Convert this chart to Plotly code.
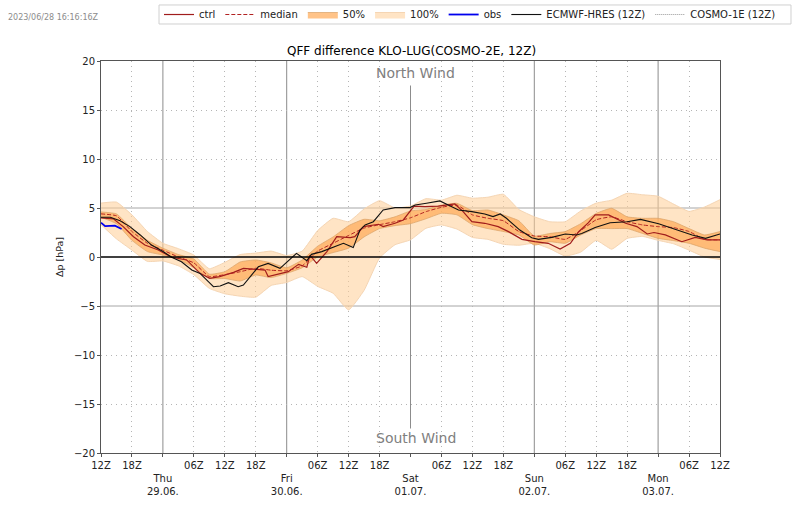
import plotly.graph_objects as go

# hours since 28.06. 12Z
hours = list(range(0, 121, 3))

upper_100 = [5.5, 5.6, 4.3, 2.6, 1.4, 0.85, 0.2, -1.2, -0.55, 0.25, 0.4, 0.6, 0.15, 0.6,
             2.7, 3.95, 3.6, 4.9, 5.75, 5.0, 5.2, 5.95, 5.8, 6.3, 6.0, 6.1, 6.4,
             4.85, 4.1, 3.6, 3.6, 4.7, 5.5, 5.8, 6.5, 6.35, 6.2, 5.4, 4.65, 5.1, 5.85]
lower_100 = [3.3, 1.85, 0.7, -0.45, -0.4, -0.9, -1.8, -3.2, -3.75, -4.0, -4.1, -2.9, -2.6, -2.0,
             -3.0, -3.7, -5.4, -3.4, -0.1, 1.25, 1.75, 2.93, 3.27, 2.85, 2.0, 1.8, 1.3,
             1.2, 1.4, 0.85, 0.1, 0.5, 1.7, 0.8, 1.9, 2.1, 1.7, 1.35, 0.7, 0.0, -0.25]
upper_50 = [4.6, 4.4, 2.9, 1.7, 0.9, 0.25, -0.2, -1.75, -1.5, -0.5, -0.3, -0.6, -1.1, -0.3,
            1.1, 2.05, 3.2, 3.85, 3.7, 4.1, 4.7, 4.85, 5.3, 5.48, 4.73, 4.8, 4.3,
            3.7, 2.14, 2.4, 2.6, 3.4, 4.45, 4.97, 4.1, 3.95, 3.95, 3.6, 2.9, 2.25, 2.6]
lower_50 = [4.05, 3.4, 1.7, 0.55, 0.2, -0.25, -1.1, -2.2, -2.2, -2.45, -1.84, -2.1, -1.67, -1.1,
            0.0, 0.45, 0.9, 2.05, 2.9, 3.2, 3.4, 3.9, 4.46, 4.3, 3.3, 2.9, 2.6,
            2.25, 1.22, 1.56, 1.4, 2.25, 2.9, 2.9, 2.9, 2.4, 1.9, 1.67, 1.4, 0.9, 0.55]
median = [4.4, 4.2, 2.6, 1.4, 0.7, 0.0, -0.6, -2.0, -1.8, -1.5, -1.15, -1.35, -1.4, -0.9,
          0.6, 1.4, 2.2, 2.95, 3.3, 3.6, 4.0, 4.63, 5.07, 5.3, 4.3, 3.95, 3.7,
          2.6, 2.14, 2.07, 1.8, 2.7, 3.8, 4.1, 3.6, 3.27, 3.1, 3.0, 2.6, 1.8, 1.75]

ctrl_hours = [0, 2.4, 4.3, 6.3, 8.5, 11.1, 13.7, 16.6, 19.2, 21.1, 23, 25.7, 27.6, 29.9, 31.8, 32.4, 34.4, 36.3,
              38.3, 39.9, 40.5, 41.8, 43.8, 45.7, 48.3, 49.2, 50.9, 53.8, 54.7, 57, 58.6, 60.7, 62.8, 65.4,
              68.6, 70.2, 71.9, 74.4, 77, 79, 81.6, 84.1, 86.7, 89, 91, 92.6, 94.5, 95.8, 98.4, 101.7, 103.9,
              105.9, 107.2, 109.4, 112.6, 115.2, 117.5, 120]
ctrl = [4.0, 3.9, 3.1, 2.07, 1.22, 0.72, -0.03, -0.3, -1.67, -2.18, -2.0, -1.57, -1.16, -1.23, -1.33, -2.0, -1.77, -1.5,
        -0.75, -1.05, 0.2, -0.65, 0.55, 2.08, 1.98, 2.08, 3.1, 3.34, 3.1, 3.44, 3.78, 5.2, 5.14, 5.2,
        5.41, 4.63, 3.6, 3.44, 3.1, 2.59, 1.8, 1.56, 1.4, 0.82, 1.4, 2.58, 3.5, 4.3, 4.3, 3.44, 3.1,
        2.35, 2.5, 2.25, 1.56, 2.0, 1.74, 1.74]

hres_hours = [0, 1.8, 3.7, 5.6, 7.6, 9.8, 12.1, 13.7, 15.6, 17.6, 19.2, 21.8, 23.1, 24.7, 26.6, 27.6, 30.5, 32.4, 34.7,
              36.6, 37.9, 39.9, 40.8, 42.8, 45, 47, 48.9, 50.2, 51.2, 52.8, 54.7, 57, 59.9, 60.9, 63.1, 65.7,
              67.3, 69.3, 71.9, 74.4, 76, 77.4, 78.6, 81.2, 83.5, 84.8, 87.4, 90, 92.2, 93.2, 95.8, 98.7,
              102, 104.6, 108.1, 111, 114.6, 117.2, 120]
hres = [4.05, 4.05, 3.7, 3.1, 2.25, 1.22, 0.54, -0.03, -0.48, -1.33, -1.67, -3.03, -2.96, -2.62, -3.03, -2.86, -1.0, -0.65, -1.16,
        -0.3, 0.37, -0.37, 0.27, 0.55, 0.96, 1.4, 0.96, 2.76, 3.27, 3.6, 4.8, 5.04, 5.04, 5.3, 5.48, 5.72,
        5.3, 4.8, 4.63, 4.39, 4.12, 4.39, 3.95, 2.75, 1.97, 1.8, 2.0, 2.35, 2.25, 2.4, 3.0, 3.5,
        3.6, 3.84, 3.4, 2.9, 2.25, 1.9, 2.35]

obs_hours = [0, 0.8, 2.7, 4]
obs = [3.5, 3.15, 3.2, 2.85]

tick_hours = [0, 6, 12, 18, 24, 30, 36, 42, 48, 54, 60, 66, 72, 78, 84, 90, 96, 102, 108, 114, 120]
tick_labels = ['12Z', '18Z', '<br>Thu<br>29.06.', '06Z', '12Z', '18Z', '<br>Fri<br>30.06.', '06Z', '12Z', '18Z',
               '<br>Sat<br>01.07.', '06Z', '12Z', '18Z', '<br>Sun<br>02.07.', '06Z', '12Z', '18Z',
               '<br>Mon<br>03.07.', '06Z', '12Z']
day_hours = [12, 36, 84, 108]
sat_hour = 60
y_ticks = [-20, -15, -10, -5, 0, 5, 10, 15, 20]

font_name = 'DejaVu Sans'
grid_col = '#a6a6a6'
dot_col = '#b5b5b5'

fig = go.Figure()

# 100% and 50% bands
smooth = dict(shape='spline', smoothing=0.4)
fig.add_trace(go.Scatter(x=hours, y=upper_100, mode='lines', line=dict(color='#f5d5b3', width=1, **smooth), showlegend=False))
fig.add_trace(go.Scatter(x=hours, y=lower_100, mode='lines', line=dict(color='#f5d5b3', width=1, **smooth), fill='tonexty',
                         fillcolor='rgba(255,205,150,0.55)', name='100%', legendrank=4))
fig.add_trace(go.Scatter(x=hours, y=upper_50, mode='lines', line=dict(color='#d9a066', width=0.7, **smooth), showlegend=False))
fig.add_trace(go.Scatter(x=hours, y=lower_50, mode='lines', line=dict(color='#d9a066', width=0.7, **smooth), fill='tonexty',
                         fillcolor='rgba(255,170,85,0.7)', name='50%', legendrank=3))
fig.add_trace(go.Scatter(x=ctrl_hours, y=ctrl, mode='lines', line=dict(color='#a01c1c', width=1.2), name='ctrl', legendrank=1))
fig.add_trace(go.Scatter(x=hours, y=median, mode='lines', line=dict(color='#b22222', width=1, dash='4px,2px', **smooth),
                         name='median', legendrank=2))
fig.add_trace(go.Scatter(x=obs_hours, y=obs, mode='lines', line=dict(color='#0000ee', width=1.8), name='obs', legendrank=5))
fig.add_trace(go.Scatter(x=hres_hours, y=hres, mode='lines', line=dict(color='#111111', width=1.1),
                         name='ECMWF-HRES (12Z)', legendrank=6))
fig.add_trace(go.Scatter(x=[None], y=[None], mode='lines', line=dict(color='#999999', width=1, dash='1px,1px'),
                         name='COSMO-1E (12Z)', legendrank=7))

# day separators and reference lines
for h in day_hours:
    fig.add_vline(x=h, line=dict(color='#8c8c8c', width=1), layer='below')
fig.add_shape(type='line', x0=sat_hour, x1=sat_hour, y0=-17.5, y1=17.5, line=dict(color='#8c8c8c', width=1), layer='below')
for v in [-5, 5]:
    fig.add_hline(y=v, line=dict(color=grid_col, width=1), layer='below')
fig.add_hline(y=0, line=dict(color='black', width=1.6))

# legend frame, the legend itself is taller than the one in the picture
fig.add_shape(type='rect', xref='paper', yref='paper', x0=0.0937, x1=1.1147, y0=1.0944, y1=1.1429,
              line=dict(color='#d0d0d0', width=1), fillcolor='white', layer='below')

fig.add_annotation(x=sat_hour, y=18.8, xshift=5, text='North Wind', showarrow=False, font=dict(size=14, color='#808080'))
fig.add_annotation(x=sat_hour, y=-18.5, xshift=5, text='South Wind', showarrow=False, font=dict(size=14, color='#808080'))
fig.add_annotation(xref='paper', yref='paper', x=-0.1535, y=1.1276, xanchor='left', text='2023/06/28 16:16:16Z',
                   showarrow=False, font=dict(size=8, color='#8c8c8c'))

fig.update_xaxes(range=[0, 120], tickmode='array', tickvals=tick_hours, ticktext=tick_labels, tickangle=0,
                 showgrid=False, zeroline=False, showline=True, mirror=True, linecolor='#555555', linewidth=1,
                 ticks='outside', ticklen=3, tickcolor='#555555', tickfont=dict(size=10),
                 minor=dict(tickmode='array', tickvals=[6, 18, 24, 30, 42, 48, 54, 66, 72, 78, 90, 96, 102, 114],
                            showgrid=True, gridcolor=dot_col, griddash='1px,4px', gridwidth=1, ticks=''))
fig.update_yaxes(range=[-20, 20], tickmode='array', tickvals=y_ticks, ticktext=['−20', '−15', '−10', '−5', '0', '5', '10', '15', '20'],
                 showgrid=False, zeroline=False, showline=True, mirror=True, linecolor='#555555', linewidth=1,
                 ticks='outside', ticklen=3, tickcolor='#555555', tickfont=dict(size=10),
                 title=dict(text='Δp [hPa]', font=dict(size=9.5), standoff=8),
                 minor=dict(tickmode='array', tickvals=[-15, -10, 10, 15],
                            showgrid=True, gridcolor=dot_col, griddash='1px,4px', gridwidth=1, ticks=''))

fig.update_layout(
    width=800, height=509, autosize=False,
    margin=dict(l=101, r=80, t=61, b=56, autoexpand=False),
    paper_bgcolor='white', plot_bgcolor='white',
    font=dict(family=font_name, size=10, color='#222222'),
    title=dict(text='QFF difference KLO-LUG(COSMO-2E, 12Z)', font=dict(size=12, color='black'),
               x=0.5145, xanchor='center', y=0.9, yanchor='middle'),
    legend=dict(orientation='h', x=0.0937, xanchor='left', y=1.1186, yanchor='middle',
                borderwidth=0, bgcolor='rgba(0,0,0,0)', font=dict(size=10), traceorder='normal',
                itemwidth=30),
)

fig.write_html("out.html", post_script="document.body.style.margin='0';", config={'displayModeBar': False})
